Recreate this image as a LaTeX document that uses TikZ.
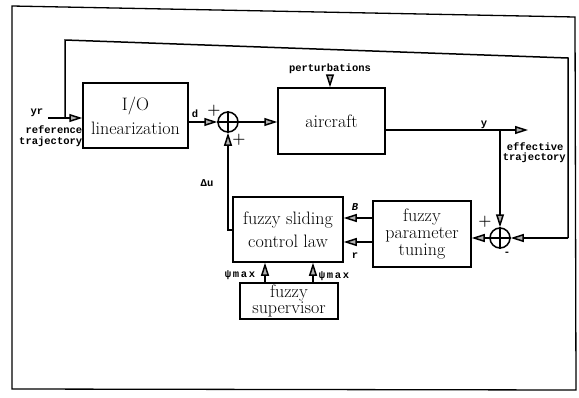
\documentclass[tikz,border=0pt]{standalone}
\usepackage{fontspec}
\newfontfamily\labfont{Liberation Mono}
\usetikzlibrary{arrows.meta}
\begin{document}
\begin{tikzpicture}[x=1pt,y=-1pt,line width=1.5pt,
  blk/.style={draw,rectangle,inner sep=0pt,align=center},
  bigtxt/.style={font=\fontsize{18}{#1}\selectfont},
  sumnode/.style={draw,circle,minimum size=20pt,inner sep=0pt},
  arr/.style={-{Triangle[length=13pt,width=8pt,fill=gray!60]}},
  lab/.style={font=\fontsize{10.5}{11}\selectfont\labfont\bfseries,inner sep=0pt},
  pm/.style={font=\fontsize{15}{15}\selectfont\bfseries,inner sep=0pt}]
\useasboundingbox (0,0) rectangle (579,397);
% frame
\draw[line width=1.3pt] (12,6) -- (575,17) -- (576,390) -- (12,389) -- cycle;
% blocks
\node[blk,bigtxt=24,minimum width=105pt,minimum height=65pt] (io) at (135.5,115.5) {I/O\\linearization};
\node[blk,bigtxt=22,minimum width=107pt,minimum height=66pt] (air) at (331.5,121) {aircraft};
\node[blk,bigtxt=23,minimum width=110pt,minimum height=65pt] (fsl) at (288,229.5) {fuzzy sliding\\control law};
\node[blk,bigtxt=17,minimum width=98pt,minimum height=66pt] (fpt) at (422,234) {fuzzy\\parameter\\tuning};
\node[blk,bigtxt=15,minimum width=98pt,minimum height=36pt] (sup) at (289,301) {fuzzy\\supervisor};
\node[sumnode] (s1) at (228,122) {};
\node[sumnode] (s2) at (500,238) {};
\draw (s1.north) -- (s1.south) (s1.west) -- (s1.east);
\draw (s2.north) -- (s2.south) (s2.west) -- (s2.east);
% coordinates
\coordinate (yin) at (48,118);
\coordinate (fbl) at (65,118);
\coordinate (fbtl) at (65,40);
\coordinate (fbtr) at (568,58);
\coordinate (fbbr) at (568,238);
\coordinate (pert) at (330,76);
\coordinate (br) at (500,130);
\coordinate (eff) at (528,130);
\coordinate (Bl) at (0,218);
\coordinate (rl) at (0,242);
\coordinate (du) at (228,230);
\coordinate (v1) at (265,0);
\coordinate (v2) at (313,0);
% connectors
\draw[arr] (yin) -- (yin -| io.west);
\draw (fbl) -- (fbtl) -- (fbtr) -- (fbbr);
\draw[arr] (fbbr) -- (s2.east);
\draw[arr] (io.east |- s1) -- (s1.west);
\draw[arr] (s1.east) -- (s1.east -| air.west);
\draw[arr] (pert) -- (pert |- air.north);
\draw (br -| air.east) -- (br);
\draw[arr] (br) -- (eff);
\draw[arr] (br) -- (s2.north);
\draw[arr] (s2.west) -- (s2.west -| fpt.east);
\draw[arr] (fpt.west |- Bl) -- (fsl.east |- Bl);
\draw[arr] (fpt.west |- rl) -- (fsl.east |- rl);
\draw[arr] (fsl.west |- du) -- (du) -- (s1.south);
\draw[arr] (v1 |- sup.north) -- (v1 |- fsl.south);
\draw[arr] (v2 |- sup.north) -- (v2 |- fsl.south);
% labels
\node[lab] at (37,113) {yr};
\node[lab,anchor=east] at (83,130) {reference};
\node[lab,anchor=east] at (83,142) {trajectory};
\node[lab] at (195,114) {d};
\node[pm] at (214,111) {+};
\node[pm] at (239,140) {+};
\node[lab] at (330,69) {perturbations};
\node[lab] at (484,125) {y};
\node[lab,anchor=west] at (506,147) {effective};
\node[lab,anchor=west] at (502,158) {trajectory};
\node[pm] at (485,222) {+};
\node[lab] at (507,254) {-};
\node[lab] at (355,207) {\itshape B};
\node[lab] at (355,256) {r};
\node[lab] at (207,183) {Δu};
\node[lab,anchor=east] at (256,275) {ψ\,m\,a\,x};
\node[lab,anchor=west] at (318,276) {ψ\,m\,a\,x};
\end{tikzpicture}
\end{document}
